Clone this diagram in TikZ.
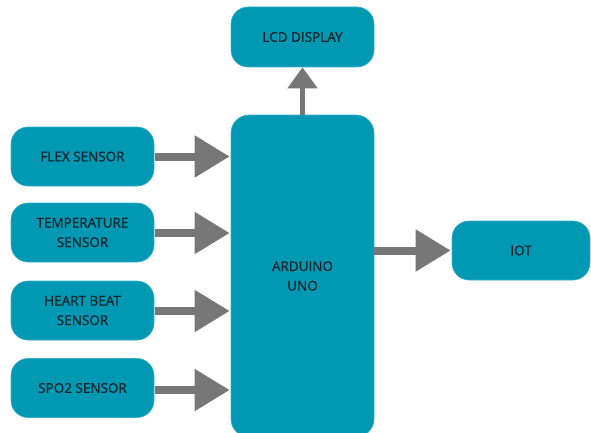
\documentclass[tikz,border=0pt]{standalone}
\usepackage{fontspec}
\setmainfont{Open Sans}
\newfontfamily\lblfont{Open Sans}[FakeBold=0.9]
\usetikzlibrary{arrows.meta}
\definecolor{boxfill}{HTML}{0098B3}
\definecolor{boxline}{HTML}{3AAFC4}
\definecolor{arrowgray}{HTML}{777777}
\definecolor{txt}{HTML}{10262C}
\tikzset{
  blk/.style={rectangle, rounded corners=17pt, fill=boxfill, draw=boxline, line width=0.6pt,
    minimum width=143pt, minimum height=59pt, inner sep=0pt, align=center,
    text=txt, font=\lblfont\fontsize{13.5}{19.5}\selectfont},
  bigarrow/.style={draw=arrowgray, line width=8pt, -{Triangle[width=40pt,length=35pt]}},
  smallarrow/.style={draw=arrowgray, line width=5pt, -{Triangle[width=29pt,length=21pt]}}
}
\begin{document}
\begin{tikzpicture}[x=1pt,y=1pt]
\useasboundingbox (0,0) rectangle (591,432);
\clip (0,0) rectangle (591,432);
% y_tikz = 432 - y_img
\node[blk] (flex) at (82.5,275.5) {FLEX SENSOR};
\node[blk] (temp) at (82.5,199.5) {TEMPERATURE\\SENSOR};
\node[blk] (heart) at (82.5,121.5) {HEART BEAT\\SENSOR};
\node[blk] (spo) at (82.5,44) {SPO2 SENSOR};
\node[blk, minimum height=322pt, rounded corners=18pt] (ardu) at (302.5,156) {ARDUINO\\UNO};
\node[blk, minimum height=60pt] (lcd) at (302.5,395) {LCD DISPLAY};
\node[blk, minimum width=138pt] (iot) at (521,181.5) {IOT};
\draw[bigarrow] ([xshift=1pt]flex.east) -- ([xshift=-1pt]flex.east -| ardu.west);
\draw[bigarrow] ([xshift=1pt,yshift=-0.5pt]temp.east) -- ([xshift=-1pt,yshift=-0.5pt]temp.east -| ardu.west);
\draw[bigarrow] ([xshift=1pt,yshift=-0.5pt]heart.east) -- ([xshift=-1pt,yshift=-0.5pt]heart.east -| ardu.west);
\draw[bigarrow] ([xshift=1pt,yshift=-2pt]spo.east) -- ([xshift=-1pt,yshift=-2pt]spo.east -| ardu.west);
\draw[bigarrow] (ardu.east |- iot.west) -- ([xshift=-1pt]iot.west);
\draw[smallarrow] (lcd.south |- ardu.north) -- (lcd.south);
\end{tikzpicture}
\end{document}
